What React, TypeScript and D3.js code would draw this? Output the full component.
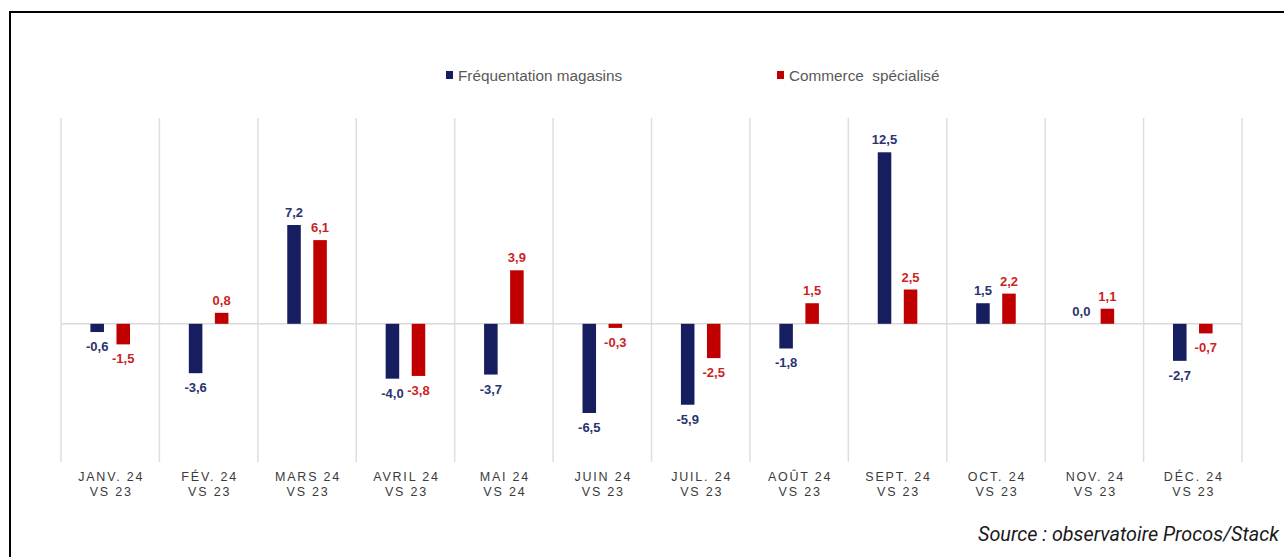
import React from 'react';
import * as d3 from 'd3';

const months = [
  'JANV. 24|VS 23', 'FÉV. 24|VS 23', 'MARS 24|VS 23', 'AVRIL 24|VS 23',
  'MAI 24|VS 24', 'JUIN 24|VS 23', 'JUIL. 24|VS 23', 'AOÛT 24|VS 23',
  'SEPT. 24|VS 23', 'OCT. 24|VS 23', 'NOV. 24|VS 23', 'DÉC. 24|VS 23',
];
const frequentation = [-0.6, -3.6, 7.2, -4.0, -3.7, -6.5, -5.9, -1.8, 12.5, 1.5, 0.0, -2.7];
const commerce = [-1.5, 0.8, 6.1, -3.8, 3.9, -0.3, -2.5, 1.5, 2.5, 2.2, 1.1, -0.7];
const seriesNames = ['Fréquentation magasins', 'Commerce  spécialisé'];

const W = 1284;
const H = 557;
const barColors = ['#161e60', '#c00000'];
const labelColors = ['#2a3370', '#cc1f1f'];

const fmt = (v: number) => v.toFixed(1).replace('.', ',');

export default function App() {
  const margin = { left: 61, right: 42, top: 118, bottom: 96 };
  const x0 = d3.scaleBand<string>().domain(months).range([margin.left, W - margin.right]).padding(0);
  const x1 = d3.scaleBand<number>().domain([0, 1]).range([0, x0.bandwidth()]).paddingInner(0.48).paddingOuter(1.13);
  const y = d3.scaleLinear().domain([-10, 15]).range([H - margin.bottom, margin.top]);
  const series = [frequentation, commerce];
  const gridX = months.map((m) => x0(m)!).concat([W - margin.right]);

  return (
    <svg width={W} height={H} style={{ position: 'absolute', left: 0, top: 0, background: '#fff' }}>
      {/* frame */}
      <path d={`M10,${H + 5}V12H${W + 5}`} fill="none" stroke="#000" strokeWidth={2} />

      {/* legend */}
      {seriesNames.map((name, i) => {
        const lx = i === 0 ? 446 : 777;
        return (
          <g key={name}>
            <rect x={lx} y={71} width={7} height={8} fill={barColors[i]} />
            <text x={lx + 12} y={80.5} fontFamily="Liberation Sans, Arial, sans-serif" fontSize={15.3} fill="#595959" style={{ whiteSpace: 'pre' }}>
              {name}
            </text>
          </g>
        );
      })}

      {/* vertical grid */}
      {gridX.map((gx, i) => (
        <line key={i} x1={gx} x2={gx} y1={margin.top} y2={H - margin.bottom + 1} stroke="#dedede" strokeWidth={1.5} />
      ))}
      {/* zero line */}
      <line x1={margin.left} x2={W - margin.right} y1={y(0)} y2={y(0)} stroke="#d9d9d9" strokeWidth={1.5} />

      {/* bars */}
      {series.map((vals, s) =>
        vals.map((v, i) => {
          const bx = x0(months[i])! + x1(s)!;
          const y0 = y(0);
          const yv = y(v);
          return (
            <g key={`${s}-${i}`}>
              <rect x={bx} y={Math.min(y0, yv)} width={x1.bandwidth()} height={Math.abs(yv - y0)} fill={barColors[s]} />
              <text
                x={bx + x1.bandwidth() / 2}
                y={v >= 0 ? yv - 8 : yv + 19}
                textAnchor="middle"
                fontFamily="Liberation Sans, Arial, sans-serif"
                fontWeight="bold"
                fontSize={13}
                fill={labelColors[s]}
              >
                {fmt(v)}
              </text>
            </g>
          );
        })
      )}

      {/* x axis labels */}
      {months.map((m) => {
        const cx = x0(m)! + x0.bandwidth() / 2 + 1;
        const [l1, l2] = m.split('|');
        return (
          <text key={m} textAnchor="middle" fontFamily="Liberation Sans, Arial, sans-serif" fontSize={12.5} fill="#3a3a3a" letterSpacing={1.8}>
            <tspan x={cx} y={481}>{l1}</tspan>
            <tspan x={cx} y={496}>{l2}</tspan>
          </text>
        );
      })}

      {/* source */}
      <text x={1279} y={541} textAnchor="end" fontFamily="Roboto, sans-serif" fontStyle="italic" fontSize={19.5} fill="#1a1a1a" textLength={301} lengthAdjust="spacingAndGlyphs">
        Source : observatoire Procos/Stack
      </text>
    </svg>
  );
}
